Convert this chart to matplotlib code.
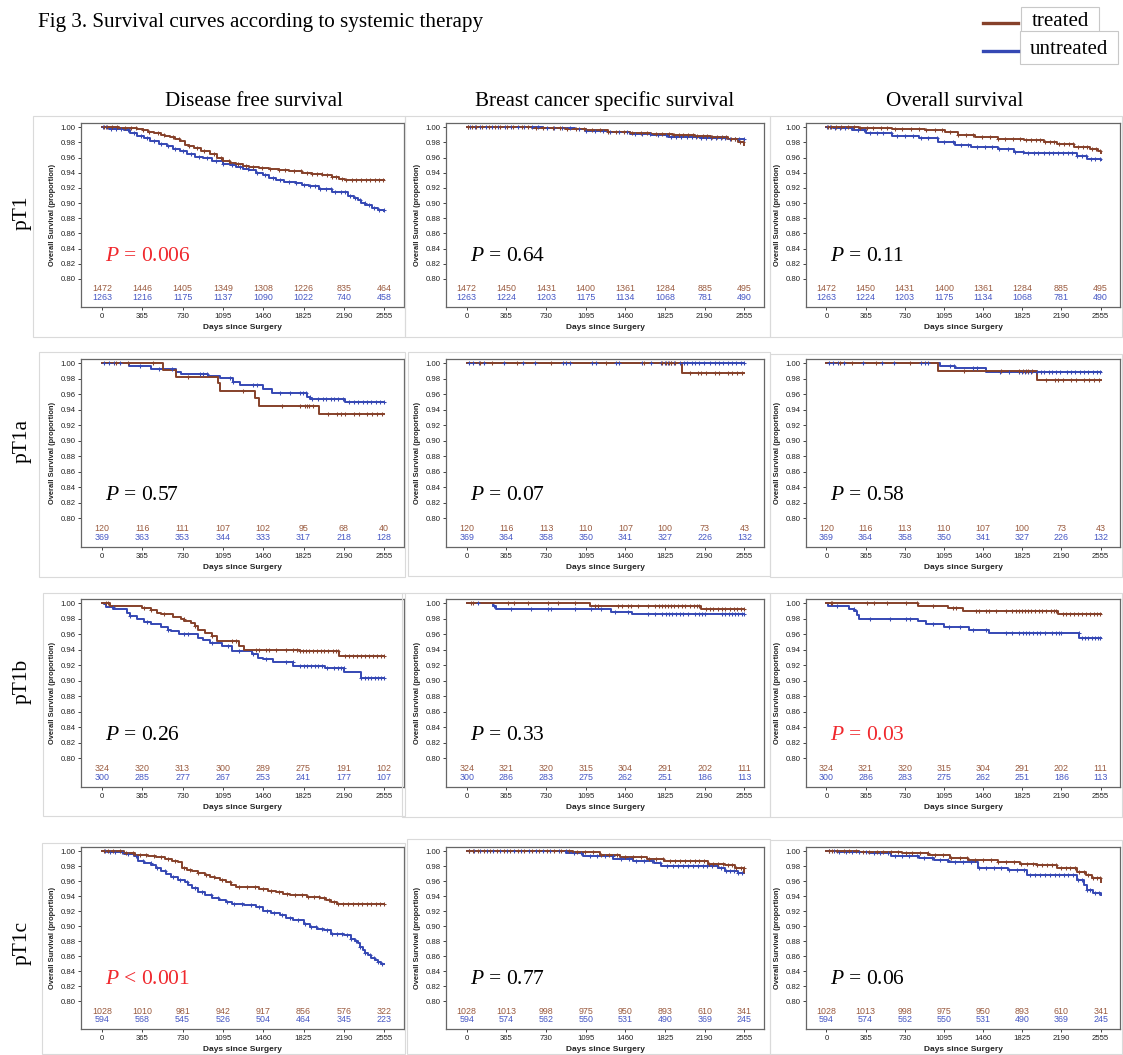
import matplotlib
matplotlib.use("Agg")
import matplotlib.pyplot as plt
import numpy as np
from matplotlib.lines import Line2D
from matplotlib.patches import Rectangle

W, H = 1123, 1055

TRT_COLOR = "#86412a"
UNT_COLOR = "#3548b4"
TRT_TEXT = "#9a5a3e"
UNT_TEXT = "#4657c4"
RED = "#f0282d"
SANS = "Liberation Sans"
SERIF = "Liberation Serif"

DAYS = [0, 365, 730, 1095, 1460, 1825, 2190, 2555]
ROWS = ["pT1", "pT1a", "pT1b", "pT1c"]
COLUMNS = ["Disease free survival", "Breast cancer specific survival", "Overall survival"]

# Kaplan-Meier step knots (day, survival) per stage / endpoint / group
DFS_T1_TRT_T = [0, 150, 320, 370, 420, 475, 530, 575, 620, 665, 710, 750, 790, 830, 900, 975, 1040, 1095, 1160,
                1215, 1280, 1334, 1420, 1514, 1600, 1693, 1813, 1900, 1993, 2080, 2142, 2200, 2555]
DFS_T1_TRT_S = [1.0, 0.999, 0.998, 0.996, 0.994, 0.992, 0.990, 0.9885, 0.987, 0.985, 0.982, 0.977, 0.975, 0.973,
                0.969, 0.965, 0.960, 0.956, 0.953, 0.951, 0.949, 0.948, 0.946, 0.945, 0.943, 0.942, 0.940, 0.938,
                0.937, 0.934, 0.932, 0.931, 0.931]
DFS_T1_UNT_T = [0, 60, 197, 257, 317, 377, 437, 512, 586, 646, 706, 766, 840, 916, 1000, 1095, 1155, 1215, 1275,
                1334, 1394, 1454, 1514, 1574, 1650, 1753, 1810, 1873, 1963, 2082, 2202, 2232, 2280, 2322, 2350,
                2382, 2441, 2500, 2555]
DFS_T1_UNT_S = [1.0, 0.998, 0.996, 0.992, 0.989, 0.986, 0.982, 0.978, 0.975, 0.971, 0.969, 0.964, 0.961, 0.959,
                0.956, 0.952, 0.9495, 0.947, 0.945, 0.943, 0.940, 0.937, 0.9335, 0.930, 0.928, 0.926, 0.924, 0.922,
                0.918, 0.915, 0.914, 0.909, 0.906, 0.904, 0.900, 0.897, 0.893, 0.891, 0.890]

BCSS_T1_TRT_T = [0, 600, 900, 1100, 1300, 1500, 1700, 1900, 2100, 2250, 2400, 2500, 2555]
BCSS_T1_TRT_S = [1.0, 0.999, 0.998, 0.996, 0.994, 0.992, 0.991, 0.990, 0.989, 0.987, 0.984, 0.981, 0.977]
BCSS_T1_UNT_T = [0, 700, 1000, 1100, 1300, 1500, 1700, 1850, 2150, 2400, 2555]
BCSS_T1_UNT_S = [1.0, 0.999, 0.997, 0.995, 0.993, 0.991, 0.990, 0.987, 0.986, 0.984, 0.984]

OS_T1_TRT_T = [0, 304, 612, 919, 1104, 1227, 1381, 1596, 1842, 2026, 2149, 2303, 2457, 2530, 2555]
OS_T1_TRT_S = [1.0, 0.999, 0.998, 0.9965, 0.993, 0.990, 0.987, 0.985, 0.9825, 0.980, 0.978, 0.974, 0.9715,
               0.968, 0.966]
OS_T1_UNT_T = [0, 58, 243, 366, 612, 858, 1042, 1200, 1350, 1596, 1750, 1842, 2334, 2426, 2555]
OS_T1_UNT_S = [1.0, 0.999, 0.9965, 0.9925, 0.989, 0.9855, 0.980, 0.977, 0.9745, 0.9715, 0.967, 0.966, 0.962,
               0.958, 0.957]

DFS_T1A_TRT_T = [0, 552, 673, 1052, 1067, 1386, 1422, 1962, 2555]
DFS_T1A_TRT_S = [1.0, 0.991, 0.9825, 0.974, 0.9645, 0.955, 0.9455, 0.9345, 0.9345]
DFS_T1A_UNT_T = [0, 249, 446, 673, 719, 961, 1067, 1189, 1250, 1462, 1538, 1856, 1887, 2205, 2555]
DFS_T1A_UNT_S = [1.0, 0.997, 0.993, 0.989, 0.986, 0.983, 0.981, 0.976, 0.9725, 0.967, 0.961, 0.957, 0.9535,
                 0.9495, 0.9495]

BCSS_T1A_TRT_T = [0, 1984, 2555]
BCSS_T1A_TRT_S = [1.0, 0.988, 0.988]
BCSS_T1A_UNT_T = [0, 2555]
BCSS_T1A_UNT_S = [1.0, 1.0]

OS_T1A_TRT_T = [0, 1042, 1965, 2555]
OS_T1A_TRT_S = [1.0, 0.990, 0.978, 0.978]
OS_T1A_UNT_T = [0, 1058, 1196, 1488, 2555]
OS_T1A_UNT_S = [1.0, 0.997, 0.9935, 0.9885, 0.9885]

DFS_T1B_TRT_T = [0, 71, 363, 440, 501, 532, 640, 717, 747, 809, 840, 870, 932, 994, 1040, 1240, 1286, 1794,
                 2147, 2555]
DFS_T1B_TRT_S = [1.0, 0.997, 0.994, 0.991, 0.988, 0.986, 0.982, 0.980, 0.977, 0.975, 0.971, 0.966, 0.962, 0.958,
                 0.951, 0.945, 0.940, 0.938, 0.932, 0.932]
DFS_T1B_UNT_T = [0, 15, 40, 101, 225, 255, 317, 378, 440, 532, 594, 624, 701, 870, 917, 978, 1086, 1178, 1363,
                 1409, 1455, 1547, 1732, 2024, 2193, 2347, 2555]
DFS_T1B_UNT_S = [1.0, 0.9985, 0.995, 0.993, 0.988, 0.984, 0.980, 0.976, 0.9735, 0.969, 0.966, 0.964, 0.960,
                 0.9555, 0.953, 0.949, 0.9445, 0.938, 0.934, 0.929, 0.9275, 0.924, 0.9195, 0.9165, 0.911, 0.903,
                 0.903]

BCSS_T1B_TRT_T = [0, 1135, 2151, 2555]
BCSS_T1B_TRT_S = [1.0, 0.997, 0.992, 0.992]
BCSS_T1B_UNT_T = [0, 239, 269, 1325, 1524, 2555]
BCSS_T1B_UNT_S = [1.0, 0.9965, 0.993, 0.989, 0.986, 0.986]

OS_T1B_TRT_T = [0, 855, 1130, 1268, 2156, 2555]
OS_T1B_TRT_S = [1.0, 0.9965, 0.9935, 0.9905, 0.986, 0.986]
OS_T1B_UNT_T = [0, 12, 211, 257, 288, 303, 855, 931, 1100, 1329, 1513, 2355, 2555]
OS_T1B_UNT_S = [1.0, 0.9967, 0.993, 0.9895, 0.985, 0.980, 0.9765, 0.973, 0.969, 0.966, 0.962, 0.955, 0.955]

DFS_T1C_TRT_T = [0, 199, 300, 414, 490, 567, 630, 690, 721, 770, 813, 870, 936, 980, 1027, 1070, 1119, 1165,
                 1211, 1426, 1500, 1579, 1640, 1702, 1855, 1978, 2030, 2070, 2131, 2555]
DFS_T1C_TRT_S = [1.0, 0.997, 0.9955, 0.994, 0.992, 0.990, 0.9875, 0.985, 0.977, 0.975, 0.973, 0.9705, 0.968,
                 0.966, 0.9645, 0.961, 0.9585, 0.955, 0.952, 0.9495, 0.947, 0.945, 0.943, 0.9415, 0.939, 0.937,
                 0.935, 0.9325, 0.930, 0.930]
DFS_T1C_UNT_T = [0, 46, 199, 291, 322, 380, 445, 490, 537, 580, 629, 690, 751, 780, 813, 870, 936, 1000, 1058,
                 1120, 1181, 1290, 1395, 1457, 1530, 1610, 1670, 1733, 1825, 1886, 1950, 2009, 2070, 2193, 2254,
                 2290, 2316, 2340, 2362, 2385, 2408, 2440, 2469, 2500, 2530, 2555]
DFS_T1C_UNT_S = [1.0, 0.999, 0.996, 0.993, 0.987, 0.9845, 0.9815, 0.977, 0.973, 0.9695, 0.966, 0.962, 0.9595,
                 0.955, 0.9505, 0.946, 0.9415, 0.938, 0.935, 0.9325, 0.930, 0.928, 0.926, 0.920, 0.917, 0.9145,
                 0.911, 0.908, 0.9035, 0.899, 0.8965, 0.8945, 0.890, 0.888, 0.8835, 0.880, 0.877, 0.872, 0.868,
                 0.8645, 0.861, 0.858, 0.8545, 0.852, 0.850, 0.850]

BCSS_T1C_TRT_T = [0, 974, 1223, 1410, 1659, 1814, 2125, 2219, 2374, 2468, 2555]
BCSS_T1C_TRT_S = [1.0, 0.999, 0.9955, 0.9925, 0.990, 0.9875, 0.987, 0.9835, 0.981, 0.978, 0.9715]
BCSS_T1C_UNT_T = [0, 912, 1067, 1348, 1534, 1721, 1783, 2312, 2374, 2500, 2555]
BCSS_T1C_UNT_S = [1.0, 0.998, 0.9935, 0.989, 0.9875, 0.9845, 0.980, 0.978, 0.974, 0.9715, 0.9715]

OS_T1C_TRT_T = [0, 300, 700, 950, 1150, 1319, 1596, 1800, 1964, 2148, 2333, 2420, 2471, 2555]
OS_T1C_TRT_S = [1.0, 0.999, 0.998, 0.995, 0.991, 0.988, 0.985, 0.983, 0.981, 0.977, 0.972, 0.968, 0.964, 0.959]
OS_T1C_UNT_T = [0, 100, 396, 600, 858, 1000, 1134, 1411, 1688, 1872, 2333, 2400, 2425, 2480, 2555]
OS_T1C_UNT_S = [1.0, 0.999, 0.997, 0.994, 0.991, 0.988, 0.985, 0.977, 0.9745, 0.968, 0.961, 0.955, 0.948, 0.944,
                0.941]

# censoring days (last follow-up), per stage and group
CENS_T1_TRT = [15, 45, 90, 140, 205, 260, 310, 375, 430, 505, 560, 640, 700, 790, 860, 925, 1010, 1075, 1150,
               1230, 1300, 1370, 1450, 1520, 1600, 1660, 1740, 1800, 1860, 1905, 1950, 1990, 2040, 2085, 2120,
               2170, 2210, 2260, 2300, 2345, 2390, 2430, 2470, 2510, 2545]
CENS_T1_UNT = [10, 35, 80, 125, 175, 235, 290, 350, 410, 470, 530, 600, 660, 735, 805, 880, 950, 1030, 1100,
               1180, 1250, 1320, 1400, 1475, 1545, 1610, 1690, 1760, 1830, 1880, 1930, 1975, 2025, 2070, 2110,
               2160, 2205, 2250, 2290, 2335, 2380, 2420, 2465, 2505, 2550]
CENS_T1A_TRT = [125, 235, 460, 780, 1280, 1630, 1795, 1835, 1860, 1875, 1915, 2050, 2125, 2160, 2205, 2280, 2325,
                2400, 2445, 2490, 2535]
CENS_T1A_UNT = [20, 60, 110, 160, 345, 520, 630, 885, 915, 950, 1155, 1190, 1370, 1400, 1615, 1700, 1790, 1820,
                1850, 1880, 1905, 1960, 2000, 2030, 2070, 2100, 2140, 2180, 2240, 2280, 2320, 2360, 2400, 2440,
                2480, 2520, 2550]
CENS_T1B_TRT = [40, 55, 380, 440, 565, 745, 840, 995, 1180, 1210, 1395, 1425, 1485, 1515, 1580, 1670, 1730, 1765,
                1795, 1820, 1850, 1875, 1910, 1945, 1980, 2010, 2050, 2090, 2120, 2140, 2200, 2235, 2270, 2310,
                2345, 2380, 2420, 2455, 2490, 2525, 2550]
CENS_T1B_UNT = [100, 255, 410, 595, 745, 780, 995, 1145, 1240, 1365, 1485, 1670, 1730, 1795, 1830, 1860, 1890,
                1925, 1960, 1990, 2040, 2100, 2135, 2165, 2190, 2350, 2380, 2410, 2440, 2470, 2500, 2530, 2550]
CENS_T1C_TRT = [20, 55, 100, 160, 215, 280, 345, 400, 470, 530, 600, 665, 740, 800, 870, 945, 1015, 1090, 1160,
                1240, 1310, 1385, 1455, 1530, 1600, 1675, 1745, 1810, 1870, 1920, 1965, 2010, 2055, 2100, 2140,
                2185, 2230, 2270, 2315, 2355, 2400, 2440, 2480, 2520, 2550]
CENS_T1C_UNT = [25, 70, 120, 185, 240, 305, 370, 440, 500, 570, 640, 705, 770, 845, 910, 985, 1055, 1130, 1200,
                1270, 1345, 1420, 1490, 1560, 1630, 1705, 1775, 1840, 1895, 1940, 1990, 2035, 2080, 2125, 2170,
                2215, 2255, 2300, 2340, 2385, 2425, 2460, 2500, 2535]

# numbers at risk
RISK_DFS_T1_TRT = [1472, 1446, 1405, 1349, 1308, 1226, 835, 464]
RISK_DFS_T1_UNT = [1263, 1216, 1175, 1137, 1090, 1022, 740, 458]
RISK_OS_T1_TRT = [1472, 1450, 1431, 1400, 1361, 1284, 885, 495]
RISK_OS_T1_UNT = [1263, 1224, 1203, 1175, 1134, 1068, 781, 490]
RISK_DFS_T1A_TRT = [120, 116, 111, 107, 102, 95, 68, 40]
RISK_DFS_T1A_UNT = [369, 363, 353, 344, 333, 317, 218, 128]
RISK_OS_T1A_TRT = [120, 116, 113, 110, 107, 100, 73, 43]
RISK_OS_T1A_UNT = [369, 364, 358, 350, 341, 327, 226, 132]
RISK_DFS_T1B_TRT = [324, 320, 313, 300, 289, 275, 191, 102]
RISK_DFS_T1B_UNT = [300, 285, 277, 267, 253, 241, 177, 107]
RISK_OS_T1B_TRT = [324, 321, 320, 315, 304, 291, 202, 111]
RISK_OS_T1B_UNT = [300, 286, 283, 275, 262, 251, 186, 113]
RISK_DFS_T1C_TRT = [1028, 1010, 981, 942, 917, 856, 576, 322]
RISK_DFS_T1C_UNT = [594, 568, 545, 526, 504, 464, 345, 223]
RISK_OS_T1C_TRT = [1028, 1013, 998, 975, 950, 893, 610, 341]
RISK_OS_T1C_UNT = [594, 574, 562, 550, 531, 490, 369, 245]

P_LABELS = [["= 0.006", "= 0.64", "= 0.11"],
            ["= 0.57", "= 0.07", "= 0.58"],
            ["= 0.26", "= 0.33", "= 0.03"],
            ["< 0.001", "= 0.77", "= 0.06"]]
P_SIGNIFICANT = [[True, False, False],
                 [False, False, False],
                 [False, False, True],
                 [True, False, False]]

CURVES = [
    [(DFS_T1_TRT_T, DFS_T1_TRT_S, DFS_T1_UNT_T, DFS_T1_UNT_S),
     (BCSS_T1_TRT_T, BCSS_T1_TRT_S, BCSS_T1_UNT_T, BCSS_T1_UNT_S),
     (OS_T1_TRT_T, OS_T1_TRT_S, OS_T1_UNT_T, OS_T1_UNT_S)],
    [(DFS_T1A_TRT_T, DFS_T1A_TRT_S, DFS_T1A_UNT_T, DFS_T1A_UNT_S),
     (BCSS_T1A_TRT_T, BCSS_T1A_TRT_S, BCSS_T1A_UNT_T, BCSS_T1A_UNT_S),
     (OS_T1A_TRT_T, OS_T1A_TRT_S, OS_T1A_UNT_T, OS_T1A_UNT_S)],
    [(DFS_T1B_TRT_T, DFS_T1B_TRT_S, DFS_T1B_UNT_T, DFS_T1B_UNT_S),
     (BCSS_T1B_TRT_T, BCSS_T1B_TRT_S, BCSS_T1B_UNT_T, BCSS_T1B_UNT_S),
     (OS_T1B_TRT_T, OS_T1B_TRT_S, OS_T1B_UNT_T, OS_T1B_UNT_S)],
    [(DFS_T1C_TRT_T, DFS_T1C_TRT_S, DFS_T1C_UNT_T, DFS_T1C_UNT_S),
     (BCSS_T1C_TRT_T, BCSS_T1C_TRT_S, BCSS_T1C_UNT_T, BCSS_T1C_UNT_S),
     (OS_T1C_TRT_T, OS_T1C_TRT_S, OS_T1C_UNT_T, OS_T1C_UNT_S)],
]
CENSORED = [(CENS_T1_TRT, CENS_T1_UNT), (CENS_T1A_TRT, CENS_T1A_UNT),
            (CENS_T1B_TRT, CENS_T1B_UNT), (CENS_T1C_TRT, CENS_T1C_UNT)]
RISK = [
    [(RISK_DFS_T1_TRT, RISK_DFS_T1_UNT), (RISK_OS_T1_TRT, RISK_OS_T1_UNT), (RISK_OS_T1_TRT, RISK_OS_T1_UNT)],
    [(RISK_DFS_T1A_TRT, RISK_DFS_T1A_UNT), (RISK_OS_T1A_TRT, RISK_OS_T1A_UNT), (RISK_OS_T1A_TRT, RISK_OS_T1A_UNT)],
    [(RISK_DFS_T1B_TRT, RISK_DFS_T1B_UNT), (RISK_OS_T1B_TRT, RISK_OS_T1B_UNT), (RISK_OS_T1B_TRT, RISK_OS_T1B_UNT)],
    [(RISK_DFS_T1C_TRT, RISK_DFS_T1C_UNT), (RISK_OS_T1C_TRT, RISK_OS_T1C_UNT), (RISK_OS_T1C_TRT, RISK_OS_T1C_UNT)],
]

# panel geometry in pixels
COL_BOX = [(81, 404), (446, 764), (806, 1120)]
ROW_BOX = [(123, 307), (359, 547), (599, 787), (847, 1029)]
COL_CENTER = [254, 605, 955]
ROW_CENTER = [213, 441, 681, 943]
FRAMES = [(33, 116, 405, 337), (405, 116, 770, 337), (770, 116, 1122, 337),
          (39, 352, 405, 577), (408, 352, 770, 576), (770, 354, 1122, 577),
          (43, 593, 405, 816), (402, 593, 770, 817), (770, 593, 1122, 817),
          (42, 843, 405, 1054), (407, 839, 770, 1054), (770, 840, 1122, 1054)]


def px_rect(left, top, right, bottom):
    return [left / W, 1 - bottom / H, (right - left) / W, (bottom - top) / H]


def fx(x):
    return x / W


def fy(y):
    return 1 - y / H


def draw_curve(ax, t, s, cens, color):
    t = np.asarray(t, dtype=float)
    s = np.asarray(s, dtype=float)
    ax.step(t, s, where="post", color=color, lw=1.4, zorder=3)
    c = np.asarray(cens, dtype=float)
    c = c[c <= t[-1]]
    idx = np.searchsorted(t, c, side="right") - 1
    ax.plot(c, s[idx], ls="none", marker="+", ms=3.4, mew=0.75, color=color, zorder=4)


plt.rcParams.update({
    "font.family": SANS,
    "mathtext.fontset": "custom",
    "mathtext.it": "Liberation Serif:italic",
    "mathtext.rm": "Liberation Serif",
})

fig = plt.figure(figsize=(W / 100, H / 100), dpi=100, facecolor="white")

for (l, t, r, b) in FRAMES:
    fig.add_artist(Rectangle((fx(l), fy(b)), (r - l) / W, (b - t) / H, transform=fig.transFigure,
                             fill=False, ec="#dadada", lw=0.8))

for i in range(4):
    for j in range(3):
        ax = fig.add_axes(px_rect(COL_BOX[j][0], ROW_BOX[i][0], COL_BOX[j][1], ROW_BOX[i][1]))
        trt_t, trt_s, unt_t, unt_s = CURVES[i][j]
        cens_trt, cens_unt = CENSORED[i]
        draw_curve(ax, unt_t, unt_s, cens_unt, UNT_COLOR)
        draw_curve(ax, trt_t, trt_s, cens_trt, TRT_COLOR)

        risk_trt, risk_unt = RISK[i][j]
        for d, n_t, n_u in zip(DAYS, risk_trt, risk_unt):
            ax.text(d, 0.7868, str(n_t), ha="center", va="center", fontsize=6.4, color=TRT_TEXT)
            ax.text(d, 0.7752, str(n_u), ha="center", va="center", fontsize=6.4, color=UNT_TEXT)

        p_color = RED if P_SIGNIFICANT[i][j] else "black"
        ax.text(30, 0.829, r"$P$ " + P_LABELS[i][j], fontsize=15.5, family=SERIF, color=p_color,
                ha="left", va="center")

        ax.set_xlim(-190, 2735)
        ax.set_ylim(0.763, 1.0055)
        ax.set_xticks(DAYS)
        ax.set_yticks(np.linspace(0.80, 1.00, 11))
        ax.yaxis.set_major_formatter(plt.FormatStrFormatter("%.2f"))
        ax.tick_params(labelsize=5.6, length=2.5, width=0.6, pad=1.5, colors="#222222")
        for sp in ax.spines.values():
            sp.set_color("#666666")
            sp.set_linewidth(0.9)
        ax.set_ylabel("Overall Survival (proportion)", fontsize=5.4, fontweight="bold", labelpad=3,
                      color="#222222")
        ax.set_xlabel("Days since Surgery", fontsize=6, fontweight="bold", labelpad=3, color="#222222")

fig.text(fx(38), fy(22), "Fig 3. Survival curves according to systemic therapy", family=SERIF,
         fontsize=15.2, ha="left", va="center")

for j, name in enumerate(COLUMNS):
    fig.text(fx(COL_CENTER[j]), fy(101), name, family=SERIF, fontsize=15.2, ha="center", va="center")

for i, name in enumerate(ROWS):
    fig.text(fx(22), fy(ROW_CENTER[i]), name, family=SERIF, fontsize=15.5, rotation=90,
             ha="center", va="center")

# legend
fig.add_artist(Rectangle((fx(1021), fy(32)), 78 / W, 25 / H, transform=fig.transFigure,
                         fc="white", ec="#c8c8c8", lw=0.8))
fig.add_artist(Rectangle((fx(1020), fy(64)), 98 / W, 33 / H, transform=fig.transFigure,
                         fc="white", ec="#c8c8c8", lw=0.8))
fig.add_artist(Line2D([fx(983), fx(1018)], [fy(23), fy(23)], transform=fig.transFigure,
                      color=TRT_COLOR, lw=2.4))
fig.add_artist(Line2D([fx(983), fx(1018)], [fy(51), fy(51)], transform=fig.transFigure,
                      color=UNT_COLOR, lw=2.4))
fig.text(fx(1060), fy(22), "treated", family=SERIF, fontsize=15, ha="center", va="center")
fig.text(fx(1069), fy(49), "untreated", family=SERIF, fontsize=15, ha="center", va="center")

fig.savefig("out.png", dpi=100, facecolor="white")
